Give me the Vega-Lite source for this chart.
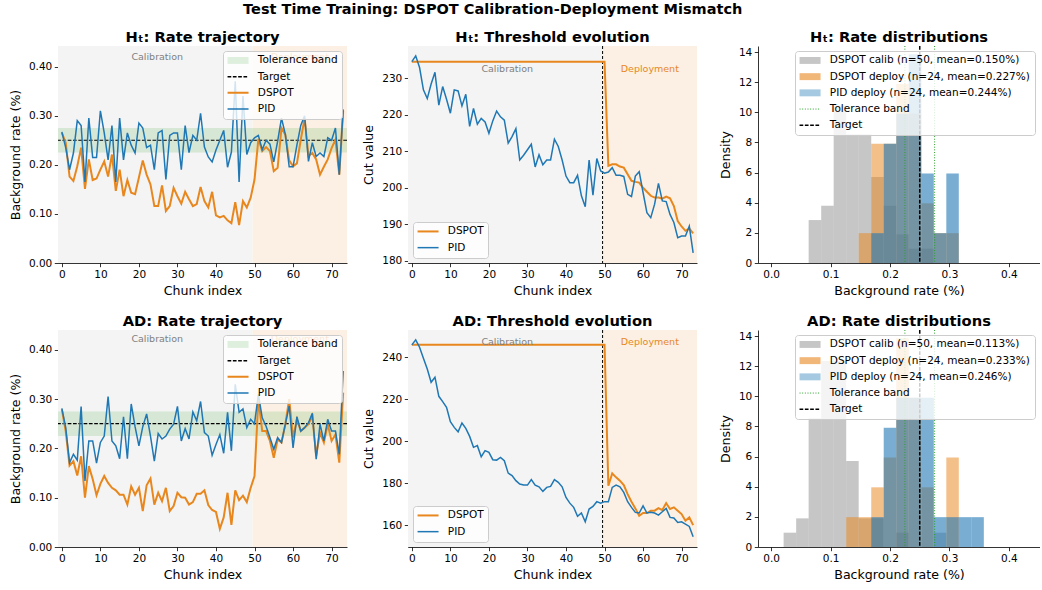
{
"$schema": "https://vega.github.io/schema/vega-lite/v6.json",
"padding": {"left": 9, "top": 2, "right": 0, "bottom": 0},
"title": {"text": "Test Time Training: DSPOT Calibration-Deployment Mismatch", "fontSize": 14.5, "fontWeight": "bold", "anchor": "middle", "offset": 12, "dx": -32, "color": "black"},
"config": {
  "font": "DejaVu Sans",
  "view": {"stroke": null},
  "axis": {"domainColor": "black", "domainWidth": 0.8, "tickColor": "black", "tickWidth": 0.8, "tickSize": 3.7, "labelPadding": 2.5, "labelFontSize": 10.5, "labelColor": "black", "titleFontSize": 12.6, "titleFontWeight": "normal", "titleColor": "black", "grid": false, "labelFlush": false, "labelOverlap": false},
  "axisY": {"titlePadding": 6},
  "axisX": {"titlePadding": 5},
  "title": {"fontSize": 14.7, "fontWeight": "bold", "color": "black", "offset": 1},
  "text": {"fontWeight": "normal"},
  "legend": {"fillColor": "rgba(255,255,255,0.8)", "strokeColor": "#cccccc", "cornerRadius": 3, "padding": 4.2, "labelFontSize": 10.5, "labelColor": "black", "symbolSize": 100, "symbolOffset": 5.6, "labelOffset": 14.5, "rowPadding": 5.2, "offset": 5, "labelLimit": 400}
},
"datasets": {
"ht_rate": [
{"chunk":0,"DSPOT":0.265,"PID":0.267},{"chunk":1,"DSPOT":0.245,"PID":0.235},{"chunk":2,"DSPOT":0.176,"PID":0.19},{"chunk":3,"DSPOT":0.167,"PID":0.224},{"chunk":4,"DSPOT":0.197,"PID":0.29},{"chunk":5,"DSPOT":0.235,"PID":0.28},{"chunk":6,"DSPOT":0.151,"PID":0.165},{"chunk":7,"DSPOT":0.211,"PID":0.295},{"chunk":8,"DSPOT":0.169,"PID":0.215},{"chunk":9,"DSPOT":0.172,"PID":0.215},
{"chunk":10,"DSPOT":0.19,"PID":0.31},{"chunk":11,"DSPOT":0.207,"PID":0.265},{"chunk":12,"DSPOT":0.176,"PID":0.21},{"chunk":13,"DSPOT":0.221,"PID":0.28},{"chunk":14,"DSPOT":0.147,"PID":0.165},{"chunk":15,"DSPOT":0.19,"PID":0.295},{"chunk":16,"DSPOT":0.136,"PID":0.21},{"chunk":17,"DSPOT":0.169,"PID":0.265},{"chunk":18,"DSPOT":0.143,"PID":0.24},{"chunk":19,"DSPOT":0.14,"PID":0.224},
{"chunk":20,"DSPOT":0.174,"PID":0.285},{"chunk":21,"DSPOT":0.209,"PID":0.275},{"chunk":22,"DSPOT":0.18,"PID":0.235},{"chunk":23,"DSPOT":0.16,"PID":0.24},{"chunk":24,"DSPOT":0.116,"PID":0.19},{"chunk":25,"DSPOT":0.116,"PID":0.265},{"chunk":26,"DSPOT":0.158,"PID":0.27},{"chunk":27,"DSPOT":0.106,"PID":0.17},{"chunk":28,"DSPOT":0.116,"PID":0.26},{"chunk":29,"DSPOT":0.153,"PID":0.265},
{"chunk":30,"DSPOT":0.136,"PID":0.265},{"chunk":31,"DSPOT":0.121,"PID":0.19},{"chunk":32,"DSPOT":0.145,"PID":0.28},{"chunk":33,"DSPOT":0.13,"PID":0.225},{"chunk":34,"DSPOT":0.116,"PID":0.26},{"chunk":35,"DSPOT":0.12,"PID":0.25},{"chunk":36,"DSPOT":0.155,"PID":0.305},{"chunk":37,"DSPOT":0.126,"PID":0.236},{"chunk":38,"DSPOT":0.113,"PID":0.216},{"chunk":39,"DSPOT":0.145,"PID":0.206},
{"chunk":40,"DSPOT":0.097,"PID":0.23},{"chunk":41,"DSPOT":0.093,"PID":0.25},{"chunk":42,"DSPOT":0.096,"PID":0.27},{"chunk":43,"DSPOT":0.087,"PID":0.195},{"chunk":44,"DSPOT":0.081,"PID":0.226},{"chunk":45,"DSPOT":0.124,"PID":0.37},{"chunk":46,"DSPOT":0.077,"PID":0.165},{"chunk":47,"DSPOT":0.126,"PID":0.34},{"chunk":48,"DSPOT":0.113,"PID":0.221},{"chunk":49,"DSPOT":0.133,"PID":0.245},
{"chunk":50,"DSPOT":0.17,"PID":0.255},{"chunk":51,"DSPOT":0.253,"PID":0.26},{"chunk":52,"DSPOT":0.228,"PID":0.231},{"chunk":53,"DSPOT":0.236,"PID":0.25},{"chunk":54,"DSPOT":0.228,"PID":0.242},{"chunk":55,"DSPOT":0.187,"PID":0.206},{"chunk":56,"DSPOT":0.194,"PID":0.248},{"chunk":57,"DSPOT":0.275,"PID":0.295},{"chunk":58,"DSPOT":0.261,"PID":0.262},{"chunk":59,"DSPOT":0.209,"PID":0.196},
{"chunk":60,"DSPOT":0.197,"PID":0.196},{"chunk":61,"DSPOT":0.203,"PID":0.24},{"chunk":62,"DSPOT":0.251,"PID":0.28},{"chunk":63,"DSPOT":0.295,"PID":0.3},{"chunk":64,"DSPOT":0.218,"PID":0.207},{"chunk":65,"DSPOT":0.224,"PID":0.245},{"chunk":66,"DSPOT":0.211,"PID":0.217},{"chunk":67,"DSPOT":0.18,"PID":0.224},{"chunk":68,"DSPOT":0.196,"PID":0.217},{"chunk":69,"DSPOT":0.211,"PID":0.255},
{"chunk":70,"DSPOT":0.234,"PID":0.25},{"chunk":71,"DSPOT":0.251,"PID":0.275},{"chunk":72,"DSPOT":0.18,"PID":0.18},{"chunk":73,"DSPOT":0.31,"PID":0.313}
],
"ht_cut": [
{"chunk":0,"DSPOT":234.5,"PID":234.5},{"chunk":1,"DSPOT":234.5,"PID":236.1},{"chunk":2,"DSPOT":234.5,"PID":232.9},{"chunk":3,"DSPOT":234.5,"PID":226.8},{"chunk":4,"DSPOT":234.5,"PID":224.4},{"chunk":5,"DSPOT":234.5,"PID":228.4},{"chunk":6,"DSPOT":234.5,"PID":231.6},{"chunk":7,"DSPOT":234.5,"PID":222.6},{"chunk":8,"DSPOT":234.5,"PID":227.7},{"chunk":9,"DSPOT":234.5,"PID":224.2},
{"chunk":10,"DSPOT":234.5,"PID":220.4},{"chunk":11,"DSPOT":234.5,"PID":226.8},{"chunk":12,"DSPOT":234.5,"PID":226.5},{"chunk":13,"DSPOT":234.5,"PID":222.4},{"chunk":14,"DSPOT":234.5,"PID":225.6},{"chunk":15,"DSPOT":234.5,"PID":216.8},{"chunk":16,"DSPOT":234.5,"PID":221.7},{"chunk":17,"DSPOT":234.5,"PID":217.4},{"chunk":18,"DSPOT":234.5,"PID":219},{"chunk":19,"DSPOT":234.5,"PID":218},
{"chunk":20,"DSPOT":234.5,"PID":214.9},{"chunk":21,"DSPOT":234.5,"PID":218.3},{"chunk":22,"DSPOT":234.5,"PID":221},{"chunk":23,"DSPOT":234.5,"PID":219.4},{"chunk":24,"DSPOT":234.5,"PID":218.5},{"chunk":25,"DSPOT":234.5,"PID":212.2},{"chunk":26,"DSPOT":234.5,"PID":214},{"chunk":27,"DSPOT":234.5,"PID":216.2},{"chunk":28,"DSPOT":234.5,"PID":207.6},{"chunk":29,"DSPOT":234.5,"PID":208.9},
{"chunk":30,"DSPOT":234.5,"PID":210.4},{"chunk":31,"DSPOT":234.5,"PID":211.9},{"chunk":32,"DSPOT":234.5,"PID":205.7},{"chunk":33,"DSPOT":234.5,"PID":209},{"chunk":34,"DSPOT":234.5,"PID":206.3},{"chunk":35,"DSPOT":234.5,"PID":207.6},{"chunk":36,"DSPOT":234.5,"PID":207.6},{"chunk":37,"DSPOT":234.5,"PID":213.3},{"chunk":38,"DSPOT":234.5,"PID":211.3},{"chunk":39,"DSPOT":234.5,"PID":207.6},
{"chunk":40,"DSPOT":234.5,"PID":203.2},{"chunk":41,"DSPOT":234.5,"PID":201.4},{"chunk":42,"DSPOT":234.5,"PID":201.4},{"chunk":43,"DSPOT":234.5,"PID":203.4},{"chunk":44,"DSPOT":234.5,"PID":197.8},{"chunk":45,"DSPOT":234.5,"PID":194.8},{"chunk":46,"DSPOT":234.5,"PID":207.6},{"chunk":47,"DSPOT":234.5,"PID":198},{"chunk":48,"DSPOT":234.5,"PID":208},{"chunk":49,"DSPOT":234.5,"PID":204.6},
{"chunk":50,"DSPOT":234.5,"PID":204},{"chunk":51,"DSPOT":206,"PID":204.3},{"chunk":52,"DSPOT":206.4,"PID":205.5},{"chunk":53,"DSPOT":206.4,"PID":203.4},{"chunk":54,"DSPOT":205.8,"PID":203.4},{"chunk":55,"DSPOT":205.5,"PID":203.1},{"chunk":56,"DSPOT":203.7,"PID":198.2},{"chunk":57,"DSPOT":201.9,"PID":197.6},{"chunk":58,"DSPOT":201.6,"PID":203.2},{"chunk":59,"DSPOT":201.4,"PID":204.4},
{"chunk":60,"DSPOT":200,"PID":198.7},{"chunk":61,"DSPOT":198.9,"PID":193.2},{"chunk":62,"DSPOT":197.8,"PID":191.8},{"chunk":63,"DSPOT":197.3,"PID":195.5},{"chunk":64,"DSPOT":197.3,"PID":201.2},{"chunk":65,"DSPOT":197,"PID":196.4},{"chunk":66,"DSPOT":197.6,"PID":196.2},{"chunk":67,"DSPOT":197.1,"PID":192.7},{"chunk":68,"DSPOT":195,"PID":190.5},{"chunk":69,"DSPOT":190.9,"PID":186.3},
{"chunk":70,"DSPOT":189.4,"PID":186.8},{"chunk":71,"DSPOT":188.2,"PID":186.8},{"chunk":72,"DSPOT":188.8,"PID":189.5},{"chunk":73,"DSPOT":187.5,"PID":182.2}
],
"ad_rate": [
{"chunk":0,"DSPOT":0.279,"PID":0.281},{"chunk":1,"DSPOT":0.235,"PID":0.242},{"chunk":2,"DSPOT":0.165,"PID":0.171},{"chunk":3,"DSPOT":0.174,"PID":0.188},{"chunk":4,"DSPOT":0.145,"PID":0.176},{"chunk":5,"DSPOT":0.184,"PID":0.285},{"chunk":6,"DSPOT":0.1,"PID":0.134},{"chunk":7,"DSPOT":0.164,"PID":0.215},{"chunk":8,"DSPOT":0.138,"PID":0.215},{"chunk":9,"DSPOT":0.105,"PID":0.17},
{"chunk":10,"DSPOT":0.128,"PID":0.212},{"chunk":11,"DSPOT":0.144,"PID":0.225},{"chunk":12,"DSPOT":0.13,"PID":0.305},{"chunk":13,"DSPOT":0.12,"PID":0.215},{"chunk":14,"DSPOT":0.115,"PID":0.205},{"chunk":15,"DSPOT":0.106,"PID":0.179},{"chunk":16,"DSPOT":0.106,"PID":0.264},{"chunk":17,"DSPOT":0.086,"PID":0.179},{"chunk":18,"DSPOT":0.123,"PID":0.29},{"chunk":19,"DSPOT":0.106,"PID":0.244},
{"chunk":20,"DSPOT":0.12,"PID":0.205},{"chunk":21,"DSPOT":0.073,"PID":0.244},{"chunk":22,"DSPOT":0.125,"PID":0.27},{"chunk":23,"DSPOT":0.139,"PID":0.225},{"chunk":24,"DSPOT":0.086,"PID":0.174},{"chunk":25,"DSPOT":0.11,"PID":0.23},{"chunk":26,"DSPOT":0.093,"PID":0.219},{"chunk":27,"DSPOT":0.12,"PID":0.225},{"chunk":28,"DSPOT":0.073,"PID":0.239},{"chunk":29,"DSPOT":0.083,"PID":0.249},
{"chunk":30,"DSPOT":0.11,"PID":0.285},{"chunk":31,"DSPOT":0.101,"PID":0.215},{"chunk":32,"DSPOT":0.1,"PID":0.24},{"chunk":33,"DSPOT":0.086,"PID":0.219},{"chunk":34,"DSPOT":0.091,"PID":0.274},{"chunk":35,"DSPOT":0.108,"PID":0.256},{"chunk":36,"DSPOT":0.108,"PID":0.295},{"chunk":37,"DSPOT":0.115,"PID":0.232},{"chunk":38,"DSPOT":0.085,"PID":0.225},{"chunk":39,"DSPOT":0.075,"PID":0.186},
{"chunk":40,"DSPOT":0.071,"PID":0.208},{"chunk":41,"DSPOT":0.037,"PID":0.228},{"chunk":42,"DSPOT":0.06,"PID":0.19},{"chunk":43,"DSPOT":0.11,"PID":0.273},{"chunk":44,"DSPOT":0.045,"PID":0.195},{"chunk":45,"DSPOT":0.115,"PID":0.33},{"chunk":46,"DSPOT":0.095,"PID":0.273},{"chunk":47,"DSPOT":0.104,"PID":0.28},{"chunk":48,"DSPOT":0.091,"PID":0.242},{"chunk":49,"DSPOT":0.12,"PID":0.259},
{"chunk":50,"DSPOT":0.144,"PID":0.25},{"chunk":51,"DSPOT":0.3,"PID":0.31},{"chunk":52,"DSPOT":0.235,"PID":0.262},{"chunk":53,"DSPOT":0.235,"PID":0.245},{"chunk":54,"DSPOT":0.215,"PID":0.222},{"chunk":55,"DSPOT":0.181,"PID":0.198},{"chunk":56,"DSPOT":0.218,"PID":0.222},{"chunk":57,"DSPOT":0.212,"PID":0.212},{"chunk":58,"DSPOT":0.249,"PID":0.249},{"chunk":59,"DSPOT":0.3,"PID":0.286},
{"chunk":60,"DSPOT":0.222,"PID":0.201},{"chunk":61,"DSPOT":0.259,"PID":0.264},{"chunk":62,"DSPOT":0.235,"PID":0.235},{"chunk":63,"DSPOT":0.242,"PID":0.242},{"chunk":64,"DSPOT":0.249,"PID":0.252},{"chunk":65,"DSPOT":0.266,"PID":0.271},{"chunk":66,"DSPOT":0.185,"PID":0.178},{"chunk":67,"DSPOT":0.232,"PID":0.249},{"chunk":68,"DSPOT":0.212,"PID":0.215},{"chunk":69,"DSPOT":0.249,"PID":0.259},
{"chunk":70,"DSPOT":0.215,"PID":0.235},{"chunk":71,"DSPOT":0.228,"PID":0.235},{"chunk":72,"DSPOT":0.171,"PID":0.188},{"chunk":73,"DSPOT":0.313,"PID":0.357}
],
"ad_cut": [
{"chunk":0,"DSPOT":246,"PID":245.9},{"chunk":1,"DSPOT":246,"PID":248.3},{"chunk":2,"DSPOT":246,"PID":244.8},{"chunk":3,"DSPOT":246,"PID":239.5},{"chunk":4,"DSPOT":246,"PID":234.4},{"chunk":5,"DSPOT":246,"PID":228.1},{"chunk":6,"DSPOT":246,"PID":230.5},{"chunk":7,"DSPOT":246,"PID":221.4},{"chunk":8,"DSPOT":246,"PID":218.9},{"chunk":9,"DSPOT":246,"PID":216.2},
{"chunk":10,"DSPOT":246,"PID":209.3},{"chunk":11,"DSPOT":246,"PID":206.6},{"chunk":12,"DSPOT":246,"PID":204.5},{"chunk":13,"DSPOT":246,"PID":208.7},{"chunk":14,"DSPOT":246,"PID":206.1},{"chunk":15,"DSPOT":246,"PID":202.3},{"chunk":16,"DSPOT":246,"PID":197.1},{"chunk":17,"DSPOT":246,"PID":197.9},{"chunk":18,"DSPOT":246,"PID":192.6},{"chunk":19,"DSPOT":246,"PID":195.5},
{"chunk":20,"DSPOT":246,"PID":194.7},{"chunk":21,"DSPOT":246,"PID":191.2},{"chunk":22,"DSPOT":246,"PID":191},{"chunk":23,"DSPOT":246,"PID":192.3},{"chunk":24,"DSPOT":246,"PID":190.7},{"chunk":25,"DSPOT":246,"PID":184.8},{"chunk":26,"DSPOT":246,"PID":183.6},{"chunk":27,"DSPOT":246,"PID":181.2},{"chunk":28,"DSPOT":246,"PID":179.6},{"chunk":29,"DSPOT":246,"PID":179.1},
{"chunk":30,"DSPOT":246,"PID":179.1},{"chunk":31,"DSPOT":246,"PID":181.7},{"chunk":32,"DSPOT":246,"PID":179.1},{"chunk":33,"DSPOT":246,"PID":178.3},{"chunk":34,"DSPOT":246,"PID":176.1},{"chunk":35,"DSPOT":246,"PID":178},{"chunk":36,"DSPOT":246,"PID":178.5},{"chunk":37,"DSPOT":246,"PID":181.7},{"chunk":38,"DSPOT":246,"PID":180.4},{"chunk":39,"DSPOT":246,"PID":178.3},
{"chunk":40,"DSPOT":246,"PID":173.2},{"chunk":41,"DSPOT":246,"PID":170.5},{"chunk":42,"DSPOT":246,"PID":168.5},{"chunk":43,"DSPOT":246,"PID":164.2},{"chunk":44,"DSPOT":246,"PID":165.8},{"chunk":45,"DSPOT":246,"PID":161.6},{"chunk":46,"DSPOT":246,"PID":167.7},{"chunk":47,"DSPOT":246,"PID":168.9},{"chunk":48,"DSPOT":246,"PID":171.2},{"chunk":49,"DSPOT":246,"PID":170.5},
{"chunk":50,"DSPOT":246,"PID":171.2},{"chunk":51,"DSPOT":178.8,"PID":171.2},{"chunk":52,"DSPOT":184.7,"PID":178},{"chunk":53,"DSPOT":182.8,"PID":179.1},{"chunk":54,"DSPOT":181.2,"PID":178.3},{"chunk":55,"DSPOT":179.1,"PID":175.6},{"chunk":56,"DSPOT":174.8,"PID":171.2},{"chunk":57,"DSPOT":171.2,"PID":168.5},{"chunk":58,"DSPOT":168,"PID":166.1},{"chunk":59,"DSPOT":164.5,"PID":165.8},
{"chunk":60,"DSPOT":165.8,"PID":169.2},{"chunk":61,"DSPOT":165.8,"PID":165.8},{"chunk":62,"DSPOT":166.9,"PID":166.1},{"chunk":63,"DSPOT":166.9,"PID":165.8},{"chunk":64,"DSPOT":168.1,"PID":164.8},{"chunk":65,"DSPOT":167.2,"PID":166.4},{"chunk":66,"DSPOT":170.5,"PID":168},{"chunk":67,"DSPOT":167.7,"PID":163.7},{"chunk":68,"DSPOT":168.5,"PID":163.4},{"chunk":69,"DSPOT":166.9,"PID":161.3},
{"chunk":70,"DSPOT":165.3,"PID":161.6},{"chunk":71,"DSPOT":162.1,"PID":160.5},{"chunk":72,"DSPOT":163.7,"PID":159.4},{"chunk":73,"DSPOT":160,"PID":154.5}
],
"ht_hist": [
{"series":"DSPOT calib (n=50, mean=0.150%)","lo":0.0631,"hi":0.0842,"density":2.85},
{"series":"DSPOT calib (n=50, mean=0.150%)","lo":0.0842,"hi":0.1052,"density":3.8},
{"series":"DSPOT calib (n=50, mean=0.150%)","lo":0.1052,"hi":0.1263,"density":10.45},
{"series":"DSPOT calib (n=50, mean=0.150%)","lo":0.1263,"hi":0.1473,"density":8.55},
{"series":"DSPOT calib (n=50, mean=0.150%)","lo":0.1473,"hi":0.1684,"density":8.55},
{"series":"DSPOT calib (n=50, mean=0.150%)","lo":0.1684,"hi":0.1894,"density":5.7},
{"series":"DSPOT calib (n=50, mean=0.150%)","lo":0.1894,"hi":0.2105,"density":3.8},
{"series":"DSPOT calib (n=50, mean=0.150%)","lo":0.2105,"hi":0.2315,"density":1.9},
{"series":"DSPOT calib (n=50, mean=0.150%)","lo":0.2315,"hi":0.2526,"density":0.95},
{"series":"DSPOT calib (n=50, mean=0.150%)","lo":0.2526,"hi":0.2736,"density":0.95},
{"series":"DSPOT deploy (n=24, mean=0.227%)","lo":0.1473,"hi":0.1684,"density":1.98},
{"series":"DSPOT deploy (n=24, mean=0.227%)","lo":0.1684,"hi":0.1894,"density":7.92},
{"series":"DSPOT deploy (n=24, mean=0.227%)","lo":0.1894,"hi":0.2105,"density":7.92},
{"series":"DSPOT deploy (n=24, mean=0.227%)","lo":0.2105,"hi":0.2315,"density":11.88},
{"series":"DSPOT deploy (n=24, mean=0.227%)","lo":0.2315,"hi":0.2526,"density":9.9},
{"series":"DSPOT deploy (n=24, mean=0.227%)","lo":0.2526,"hi":0.2736,"density":3.96},
{"series":"DSPOT deploy (n=24, mean=0.227%)","lo":0.2736,"hi":0.2947,"density":1.98},
{"series":"DSPOT deploy (n=24, mean=0.227%)","lo":0.2947,"hi":0.3157,"density":1.98},
{"series":"PID deploy (n=24, mean=0.244%)","lo":0.1684,"hi":0.1894,"density":1.98},
{"series":"PID deploy (n=24, mean=0.244%)","lo":0.1894,"hi":0.2105,"density":7.92},
{"series":"PID deploy (n=24, mean=0.244%)","lo":0.2105,"hi":0.2315,"density":9.9},
{"series":"PID deploy (n=24, mean=0.244%)","lo":0.2315,"hi":0.2526,"density":13.86},
{"series":"PID deploy (n=24, mean=0.244%)","lo":0.2526,"hi":0.2736,"density":5.94},
{"series":"PID deploy (n=24, mean=0.244%)","lo":0.2736,"hi":0.2947,"density":1.98},
{"series":"PID deploy (n=24, mean=0.244%)","lo":0.2947,"hi":0.3157,"density":5.94}
],
"ad_hist": [
{"series":"DSPOT calib (n=50, mean=0.113%)","lo":0.021,"hi":0.0421,"density":0.95},
{"series":"DSPOT calib (n=50, mean=0.113%)","lo":0.0421,"hi":0.0631,"density":1.9},
{"series":"DSPOT calib (n=50, mean=0.113%)","lo":0.0631,"hi":0.0842,"density":8.55},
{"series":"DSPOT calib (n=50, mean=0.113%)","lo":0.0842,"hi":0.1052,"density":12.35},
{"series":"DSPOT calib (n=50, mean=0.113%)","lo":0.1052,"hi":0.1263,"density":12.35},
{"series":"DSPOT calib (n=50, mean=0.113%)","lo":0.1263,"hi":0.1473,"density":5.7},
{"series":"DSPOT calib (n=50, mean=0.113%)","lo":0.1473,"hi":0.1684,"density":1.9},
{"series":"DSPOT calib (n=50, mean=0.113%)","lo":0.1684,"hi":0.1894,"density":1.9},
{"series":"DSPOT calib (n=50, mean=0.113%)","lo":0.2105,"hi":0.2315,"density":0.95},
{"series":"DSPOT calib (n=50, mean=0.113%)","lo":0.2736,"hi":0.2947,"density":0.95},
{"series":"DSPOT deploy (n=24, mean=0.233%)","lo":0.1263,"hi":0.1473,"density":1.98},
{"series":"DSPOT deploy (n=24, mean=0.233%)","lo":0.1473,"hi":0.1684,"density":1.98},
{"series":"DSPOT deploy (n=24, mean=0.233%)","lo":0.1684,"hi":0.1894,"density":3.96},
{"series":"DSPOT deploy (n=24, mean=0.233%)","lo":0.1894,"hi":0.2105,"density":5.94},
{"series":"DSPOT deploy (n=24, mean=0.233%)","lo":0.2105,"hi":0.2315,"density":13.86},
{"series":"DSPOT deploy (n=24, mean=0.233%)","lo":0.2315,"hi":0.2526,"density":9.9},
{"series":"DSPOT deploy (n=24, mean=0.233%)","lo":0.2526,"hi":0.2736,"density":3.96},
{"series":"DSPOT deploy (n=24, mean=0.233%)","lo":0.2947,"hi":0.3157,"density":5.94},
{"series":"PID deploy (n=24, mean=0.246%)","lo":0.1684,"hi":0.1894,"density":1.98},
{"series":"PID deploy (n=24, mean=0.246%)","lo":0.1894,"hi":0.2105,"density":7.92},
{"series":"PID deploy (n=24, mean=0.246%)","lo":0.2105,"hi":0.2315,"density":9.9},
{"series":"PID deploy (n=24, mean=0.246%)","lo":0.2315,"hi":0.2526,"density":9.9},
{"series":"PID deploy (n=24, mean=0.246%)","lo":0.2526,"hi":0.2736,"density":9.9},
{"series":"PID deploy (n=24, mean=0.246%)","lo":0.2736,"hi":0.2947,"density":1.98},
{"series":"PID deploy (n=24, mean=0.246%)","lo":0.2947,"hi":0.3157,"density":1.98},
{"series":"PID deploy (n=24, mean=0.246%)","lo":0.3157,"hi":0.3368,"density":1.98},
{"series":"PID deploy (n=24, mean=0.246%)","lo":0.3368,"hi":0.3578,"density":1.98}
]
},
"columns": 3,
"spacing": {"row": 67, "column": 61},
"bounds": "flush",
"resolve": {"scale": {"color": "independent", "x": "independent", "y": "independent", "opacity": "independent", "strokeWidth": "independent"}, "legend": {"color": "independent"}},
"concat": [
{
 "width": 289, "height": 217,
 "title": {"text": "Hₜ: Rate trajectory"},
 "layer": [
  {"data": {"values": [{"start": -1, "end": 49.5}]}, "mark": {"type": "rect", "fill": "#f4f4f4"},
   "encoding": {"x": {"field": "start", "type": "quantitative", "scale": {"domain": [-1, 74], "nice": false, "zero": false}, "axis": {"title": "Chunk index", "values": [0,10,20,30,40,50,60,70], "format": "d"}}, "x2": {"field": "end"}}},
  {"data": {"values": [{"start": 49.5, "end": 74}]}, "mark": {"type": "rect", "fill": "#fbf0e3"},
   "encoding": {"x": {"field": "start", "type": "quantitative"}, "x2": {"field": "end"}}},
  {"data": {"values": [{"low": 0.225, "high": 0.275}]}, "mark": {"type": "rect", "opacity": 0.15},
   "encoding": {"y": {"field": "low", "type": "quantitative", "scale": {"domain": [0, 0.442], "nice": false}, "axis": {"title": "Background rate (%)", "values": [0,0.05,0.1,0.15,0.2,0.25,0.3,0.35,0.4], "format": ".2f"}}, "y2": {"field": "high"},
    "color": {"datum": "Tolerance band", "type": "nominal", "scale": {"domain": ["Tolerance band","Target","DSPOT","PID"], "range": ["#2ca02c","black","#e8871e","#1f77b4"]}}}},
  {"data": {"values": [{"target": 0.25}]}, "mark": {"type": "rule", "strokeDash": [3.7, 1.6], "strokeWidth": 1.2},
   "encoding": {"y": {"field": "target", "type": "quantitative"}, "color": {"datum": "Target", "type": "nominal", "scale": {"domain": ["Tolerance band","Target","DSPOT","PID"], "range": ["#2ca02c","black","#e8871e","#1f77b4"]}}}},
  {"data": {"name": "ht_rate"}, "transform": [{"fold": ["DSPOT", "PID"], "as": ["series", "rate"]}], "mark": {"type": "line"},
   "encoding": {"x": {"field": "chunk", "type": "quantitative"}, "y": {"field": "rate", "type": "quantitative"},
    "color": {"field": "series", "type": "nominal", "scale": {"domain": ["Tolerance band","Target","DSPOT","PID"], "range": ["#2ca02c","black","#e8871e","#1f77b4"]},
      "legend": {"title": null, "orient": "top-right", "symbolSize": 100, "encode": {"symbols": {"update": {
        "shape": {"signal": "datum.value == 'Tolerance band' ? 'M-1,-0.33H1V0.33H-1Z' : 'stroke'"},
        "size": {"value": 441},
        "fill": {"signal": "datum.value == 'Tolerance band' ? '#2ca02c' : 'transparent'"},
        "fillOpacity": {"signal": "datum.value == 'Tolerance band' ? 0.15 : 1"},
        "stroke": {"signal": "datum.value == 'Target' ? 'black' : datum.value == 'DSPOT' ? '#e8871e' : datum.value == 'PID' ? '#1f77b4' : 'transparent'"},
        "strokeDash": {"signal": "datum.value == 'Target' ? [3.7, 1.6] : [1, 0]"},
        "strokeWidth": {"signal": "datum.value == 'Tolerance band' ? 0 : datum.value == 'DSPOT' ? 2 : 1.5"},
        "opacity": {"value": 1}}}}}},
    "strokeWidth": {"field": "series", "type": "nominal", "scale": {"domain": ["DSPOT","PID"], "range": [2, 1.5]}, "legend": null}}},
  {"data": {"values": [{"x": 24.75, "y": 0.42, "label": "Calibration"}]}, "mark": {"type": "text", "color": "#808080", "fontSize": 9.5, "fontWeight": "normal", "baseline": "middle"},
   "encoding": {"x": {"field": "x", "type": "quantitative"}, "y": {"field": "y", "type": "quantitative"}, "text": {"field": "label"}}},
  {"data": {"values": [{"x": 61.75, "y": 0.42, "label": "Deployment"}]}, "mark": {"type": "text", "color": "#e8871e", "fontSize": 9.5, "fontWeight": "normal", "baseline": "middle"},
   "encoding": {"x": {"field": "x", "type": "quantitative"}, "y": {"field": "y", "type": "quantitative"}, "text": {"field": "label"}}}
 ]
},
{
 "width": 289, "height": 217,
 "title": {"text": "Hₜ: Threshold evolution"},
 "layer": [
  {"data": {"values": [{"start": -1, "end": 49.5}]}, "mark": {"type": "rect", "fill": "#f4f4f4"},
   "encoding": {"x": {"field": "start", "type": "quantitative", "scale": {"domain": [-1, 74], "nice": false, "zero": false}, "axis": {"title": "Chunk index", "values": [0,10,20,30,40,50,60,70], "format": "d"}}, "x2": {"field": "end"}}},
  {"data": {"values": [{"start": 49.5, "end": 74}]}, "mark": {"type": "rect", "fill": "#fbf0e3"},
   "encoding": {"x": {"field": "start", "type": "quantitative"}, "x2": {"field": "end"}}},
  {"data": {"values": [{"split": 49.5}]}, "mark": {"type": "rule", "color": "black", "strokeDash": [3, 2], "strokeWidth": 1},
   "encoding": {"x": {"field": "split", "type": "quantitative"}}},
  {"data": {"name": "ht_cut"}, "transform": [{"fold": ["DSPOT"], "as": ["series", "cut"]}], "mark": {"type": "line", "strokeWidth": 2},
   "encoding": {"x": {"field": "chunk", "type": "quantitative"}, "y": {"field": "cut", "type": "quantitative", "scale": {"domain": [179.4, 238.8], "nice": false, "zero": false}, "axis": {"title": "Cut value", "values": [180,190,200,210,220,230]}},
    "color": {"field": "series", "type": "nominal", "scale": {"domain": ["DSPOT","PID"], "range": ["#e8871e","#1f77b4"]},
      "legend": {"title": null, "orient": "bottom-left", "symbolSize": 100, "encode": {"symbols": {"update": {
        "shape": {"signal": "datum.value == 'none' ? 'stroke' : 'M-1,0H1'"},
        "size": {"value": 441},
        "fill": {"value": "transparent"},
        "stroke": {"signal": "datum.value == 'DSPOT' ? '#e8871e' : '#1f77b4'"},
        "strokeWidth": {"signal": "datum.value == 'DSPOT' ? 2 : 1.5"},
        "opacity": {"value": 1}}}}}}}},
  {"data": {"name": "ht_cut"}, "transform": [{"fold": ["PID"], "as": ["series", "cut"]}], "mark": {"type": "line", "strokeWidth": 1.5},
   "encoding": {"x": {"field": "chunk", "type": "quantitative"}, "y": {"field": "cut", "type": "quantitative"},
    "color": {"field": "series", "type": "nominal", "scale": {"domain": ["DSPOT","PID"], "range": ["#e8871e","#1f77b4"]}}}},
  {"data": {"values": [{"x": 24.75, "y": 232.5, "label": "Calibration"}]}, "mark": {"type": "text", "color": "#808080", "fontSize": 9.5, "fontWeight": "normal", "baseline": "middle"},
   "encoding": {"x": {"field": "x", "type": "quantitative"}, "y": {"field": "y", "type": "quantitative"}, "text": {"field": "label"}}},
  {"data": {"values": [{"x": 61.75, "y": 232.5, "label": "Deployment"}]}, "mark": {"type": "text", "color": "#e8871e", "fontSize": 9.5, "fontWeight": "normal", "baseline": "middle"},
   "encoding": {"x": {"field": "x", "type": "quantitative"}, "y": {"field": "y", "type": "quantitative"}, "text": {"field": "label"}}}
 ]
},
{
 "width": 282, "height": 217,
 "title": {"text": "Hₜ: Rate distributions"},
 "layer": [
  {"data": {"name": "ht_hist"}, "mark": {"type": "rect"},
   "encoding": {"x": {"field": "lo", "type": "quantitative", "scale": {"domain": [-0.0221, 0.4523], "nice": false, "zero": false}, "axis": {"title": "Background rate (%)", "values": [0,0.1,0.2,0.3,0.4], "format": ".1f"}},
    "x2": {"field": "hi"},
    "y": {"field": "density", "type": "quantitative", "scale": {"domain": [0, 14.4], "nice": false}, "axis": {"title": "Density", "values": [0,2,4,6,8,10,12,14]}},
    "y2": {"datum": 0},
    "color": {"field": "series", "type": "nominal", "scale": {"domain": ["DSPOT calib (n=50, mean=0.150%)","DSPOT deploy (n=24, mean=0.227%)","PID deploy (n=24, mean=0.244%)","Tolerance band","Target"], "range": ["#808080","#e8871e","#1f77b4","#2ca02c","black"]},
      "legend": {"title": null, "orient": "top-right", "symbolSize": 100, "encode": {"symbols": {"update": {
        "shape": {"signal": "datum.value == 'Tolerance band' || datum.value == 'Target' ? 'stroke' : 'M-1,-0.33H1V0.33H-1Z'"},
        "size": {"value": 441},
        "fill": {"signal": "indexof(datum.value, 'calib') >= 0 ? '#808080' : indexof(datum.value, 'DSPOT deploy') >= 0 ? '#e8871e' : indexof(datum.value, 'PID deploy') >= 0 ? '#1f77b4' : 'transparent'"},
        "fillOpacity": {"signal": "indexof(datum.value, 'calib') >= 0 ? 0.45 : indexof(datum.value, 'DSPOT deploy') >= 0 ? 0.6 : 0.4"},
        "stroke": {"signal": "datum.value == 'Tolerance band' ? '#2ca02c' : datum.value == 'Target' ? 'black' : 'transparent'"},
        "strokeDash": {"signal": "datum.value == 'Tolerance band' ? [1, 1.65] : datum.value == 'Target' ? [3.7, 1.6] : [1, 0]"},
        "strokeWidth": {"signal": "datum.value == 'Target' ? 1.5 : datum.value == 'Tolerance band' ? 1 : 0"},
        "opacity": {"value": 1}}}}}},
    "opacity": {"field": "series", "type": "nominal", "scale": {"domain": ["DSPOT calib (n=50, mean=0.150%)","DSPOT deploy (n=24, mean=0.227%)","PID deploy (n=24, mean=0.244%)"], "range": [0.45, 0.6, 0.4]}, "legend": null}}},
  {"data": {"values": [{"edge": 0.225}, {"edge": 0.275}]}, "mark": {"type": "rule", "strokeDash": [1, 1.65], "strokeWidth": 1},
   "encoding": {"x": {"field": "edge", "type": "quantitative"}, "color": {"datum": "Tolerance band", "type": "nominal", "scale": {"domain": ["DSPOT calib (n=50, mean=0.150%)","DSPOT deploy (n=24, mean=0.227%)","PID deploy (n=24, mean=0.244%)","Tolerance band","Target"], "range": ["#808080","#e8871e","#1f77b4","#2ca02c","black"]}}}},
  {"data": {"values": [{"target": 0.25}]}, "mark": {"type": "rule", "strokeDash": [3.7, 1.6], "strokeWidth": 1.5},
   "encoding": {"x": {"field": "target", "type": "quantitative"}, "color": {"datum": "Target", "type": "nominal", "scale": {"domain": ["DSPOT calib (n=50, mean=0.150%)","DSPOT deploy (n=24, mean=0.227%)","PID deploy (n=24, mean=0.244%)","Tolerance band","Target"], "range": ["#808080","#e8871e","#1f77b4","#2ca02c","black"]}}}}
 ]
},
{
 "width": 289, "height": 217,
 "title": {"text": "AD: Rate trajectory"},
 "layer": [
  {"data": {"values": [{"start": -1, "end": 49.5}]}, "mark": {"type": "rect", "fill": "#f4f4f4"},
   "encoding": {"x": {"field": "start", "type": "quantitative", "scale": {"domain": [-1, 74], "nice": false, "zero": false}, "axis": {"title": "Chunk index", "values": [0,10,20,30,40,50,60,70], "format": "d"}}, "x2": {"field": "end"}}},
  {"data": {"values": [{"start": 49.5, "end": 74}]}, "mark": {"type": "rect", "fill": "#fbf0e3"},
   "encoding": {"x": {"field": "start", "type": "quantitative"}, "x2": {"field": "end"}}},
  {"data": {"values": [{"low": 0.225, "high": 0.275}]}, "mark": {"type": "rect", "opacity": 0.15},
   "encoding": {"y": {"field": "low", "type": "quantitative", "scale": {"domain": [0, 0.44], "nice": false}, "axis": {"title": "Background rate (%)", "values": [0,0.05,0.1,0.15,0.2,0.25,0.3,0.35,0.4], "format": ".2f"}}, "y2": {"field": "high"},
    "color": {"datum": "Tolerance band", "type": "nominal", "scale": {"domain": ["Tolerance band","Target","DSPOT","PID"], "range": ["#2ca02c","black","#e8871e","#1f77b4"]}}}},
  {"data": {"values": [{"target": 0.25}]}, "mark": {"type": "rule", "strokeDash": [3.7, 1.6], "strokeWidth": 1.2},
   "encoding": {"y": {"field": "target", "type": "quantitative"}, "color": {"datum": "Target", "type": "nominal", "scale": {"domain": ["Tolerance band","Target","DSPOT","PID"], "range": ["#2ca02c","black","#e8871e","#1f77b4"]}}}},
  {"data": {"name": "ad_rate"}, "transform": [{"fold": ["DSPOT", "PID"], "as": ["series", "rate"]}], "mark": {"type": "line"},
   "encoding": {"x": {"field": "chunk", "type": "quantitative"}, "y": {"field": "rate", "type": "quantitative"},
    "color": {"field": "series", "type": "nominal", "scale": {"domain": ["Tolerance band","Target","DSPOT","PID"], "range": ["#2ca02c","black","#e8871e","#1f77b4"]},
      "legend": {"title": null, "orient": "top-right", "symbolSize": 100, "encode": {"symbols": {"update": {
        "shape": {"signal": "datum.value == 'Tolerance band' ? 'M-1,-0.33H1V0.33H-1Z' : 'stroke'"},
        "size": {"value": 441},
        "fill": {"signal": "datum.value == 'Tolerance band' ? '#2ca02c' : 'transparent'"},
        "fillOpacity": {"signal": "datum.value == 'Tolerance band' ? 0.15 : 1"},
        "stroke": {"signal": "datum.value == 'Target' ? 'black' : datum.value == 'DSPOT' ? '#e8871e' : datum.value == 'PID' ? '#1f77b4' : 'transparent'"},
        "strokeDash": {"signal": "datum.value == 'Target' ? [3.7, 1.6] : [1, 0]"},
        "strokeWidth": {"signal": "datum.value == 'Tolerance band' ? 0 : datum.value == 'DSPOT' ? 2 : 1.5"},
        "opacity": {"value": 1}}}}}},
    "strokeWidth": {"field": "series", "type": "nominal", "scale": {"domain": ["DSPOT","PID"], "range": [2, 1.5]}, "legend": null}}},
  {"data": {"values": [{"x": 24.75, "y": 0.421, "label": "Calibration"}]}, "mark": {"type": "text", "color": "#808080", "fontSize": 9.5, "fontWeight": "normal", "baseline": "middle"},
   "encoding": {"x": {"field": "x", "type": "quantitative"}, "y": {"field": "y", "type": "quantitative"}, "text": {"field": "label"}}},
  {"data": {"values": [{"x": 61.75, "y": 0.421, "label": "Deployment"}]}, "mark": {"type": "text", "color": "#e8871e", "fontSize": 9.5, "fontWeight": "normal", "baseline": "middle"},
   "encoding": {"x": {"field": "x", "type": "quantitative"}, "y": {"field": "y", "type": "quantitative"}, "text": {"field": "label"}}}
 ]
},
{
 "width": 289, "height": 217,
 "title": {"text": "AD: Threshold evolution"},
 "layer": [
  {"data": {"values": [{"start": -1, "end": 49.5}]}, "mark": {"type": "rect", "fill": "#f4f4f4"},
   "encoding": {"x": {"field": "start", "type": "quantitative", "scale": {"domain": [-1, 74], "nice": false, "zero": false}, "axis": {"title": "Chunk index", "values": [0,10,20,30,40,50,60,70], "format": "d"}}, "x2": {"field": "end"}}},
  {"data": {"values": [{"start": 49.5, "end": 74}]}, "mark": {"type": "rect", "fill": "#fbf0e3"},
   "encoding": {"x": {"field": "start", "type": "quantitative"}, "x2": {"field": "end"}}},
  {"data": {"values": [{"split": 49.5}]}, "mark": {"type": "rule", "color": "black", "strokeDash": [3, 2], "strokeWidth": 1},
   "encoding": {"x": {"field": "split", "type": "quantitative"}}},
  {"data": {"name": "ad_cut"}, "transform": [{"fold": ["DSPOT"], "as": ["series", "cut"]}], "mark": {"type": "line", "strokeWidth": 2},
   "encoding": {"x": {"field": "chunk", "type": "quantitative"}, "y": {"field": "cut", "type": "quantitative", "scale": {"domain": [149.6, 253], "nice": false, "zero": false}, "axis": {"title": "Cut value", "values": [160,180,200,220,240]}},
    "color": {"field": "series", "type": "nominal", "scale": {"domain": ["DSPOT","PID"], "range": ["#e8871e","#1f77b4"]},
      "legend": {"title": null, "orient": "bottom-left", "symbolSize": 100, "encode": {"symbols": {"update": {
        "shape": {"signal": "datum.value == 'none' ? 'stroke' : 'M-1,0H1'"},
        "size": {"value": 441},
        "fill": {"value": "transparent"},
        "stroke": {"signal": "datum.value == 'DSPOT' ? '#e8871e' : '#1f77b4'"},
        "strokeWidth": {"signal": "datum.value == 'DSPOT' ? 2 : 1.5"},
        "opacity": {"value": 1}}}}}}}},
  {"data": {"name": "ad_cut"}, "transform": [{"fold": ["PID"], "as": ["series", "cut"]}], "mark": {"type": "line", "strokeWidth": 1.5},
   "encoding": {"x": {"field": "chunk", "type": "quantitative"}, "y": {"field": "cut", "type": "quantitative"},
    "color": {"field": "series", "type": "nominal", "scale": {"domain": ["DSPOT","PID"], "range": ["#e8871e","#1f77b4"]}}}},
  {"data": {"values": [{"x": 24.75, "y": 247.2, "label": "Calibration"}]}, "mark": {"type": "text", "color": "#808080", "fontSize": 9.5, "fontWeight": "normal", "baseline": "middle"},
   "encoding": {"x": {"field": "x", "type": "quantitative"}, "y": {"field": "y", "type": "quantitative"}, "text": {"field": "label"}}},
  {"data": {"values": [{"x": 61.75, "y": 247.2, "label": "Deployment"}]}, "mark": {"type": "text", "color": "#e8871e", "fontSize": 9.5, "fontWeight": "normal", "baseline": "middle"},
   "encoding": {"x": {"field": "x", "type": "quantitative"}, "y": {"field": "y", "type": "quantitative"}, "text": {"field": "label"}}}
 ]
},
{
 "width": 282, "height": 217,
 "title": {"text": "AD: Rate distributions"},
 "layer": [
  {"data": {"name": "ad_hist"}, "mark": {"type": "rect"},
   "encoding": {"x": {"field": "lo", "type": "quantitative", "scale": {"domain": [-0.0221, 0.4523], "nice": false, "zero": false}, "axis": {"title": "Background rate (%)", "values": [0,0.1,0.2,0.3,0.4], "format": ".1f"}},
    "x2": {"field": "hi"},
    "y": {"field": "density", "type": "quantitative", "scale": {"domain": [0, 14.4], "nice": false}, "axis": {"title": "Density", "values": [0,2,4,6,8,10,12,14]}},
    "y2": {"datum": 0},
    "color": {"field": "series", "type": "nominal", "scale": {"domain": ["DSPOT calib (n=50, mean=0.113%)","DSPOT deploy (n=24, mean=0.233%)","PID deploy (n=24, mean=0.246%)","Tolerance band","Target"], "range": ["#808080","#e8871e","#1f77b4","#2ca02c","black"]},
      "legend": {"title": null, "orient": "top-right", "symbolSize": 100, "encode": {"symbols": {"update": {
        "shape": {"signal": "datum.value == 'Tolerance band' || datum.value == 'Target' ? 'stroke' : 'M-1,-0.33H1V0.33H-1Z'"},
        "size": {"value": 441},
        "fill": {"signal": "indexof(datum.value, 'calib') >= 0 ? '#808080' : indexof(datum.value, 'DSPOT deploy') >= 0 ? '#e8871e' : indexof(datum.value, 'PID deploy') >= 0 ? '#1f77b4' : 'transparent'"},
        "fillOpacity": {"signal": "indexof(datum.value, 'calib') >= 0 ? 0.45 : indexof(datum.value, 'DSPOT deploy') >= 0 ? 0.6 : 0.4"},
        "stroke": {"signal": "datum.value == 'Tolerance band' ? '#2ca02c' : datum.value == 'Target' ? 'black' : 'transparent'"},
        "strokeDash": {"signal": "datum.value == 'Tolerance band' ? [1, 1.65] : datum.value == 'Target' ? [3.7, 1.6] : [1, 0]"},
        "strokeWidth": {"signal": "datum.value == 'Target' ? 1.5 : datum.value == 'Tolerance band' ? 1 : 0"},
        "opacity": {"value": 1}}}}}},
    "opacity": {"field": "series", "type": "nominal", "scale": {"domain": ["DSPOT calib (n=50, mean=0.113%)","DSPOT deploy (n=24, mean=0.233%)","PID deploy (n=24, mean=0.246%)"], "range": [0.45, 0.6, 0.4]}, "legend": null}}},
  {"data": {"values": [{"edge": 0.225}, {"edge": 0.275}]}, "mark": {"type": "rule", "strokeDash": [1, 1.65], "strokeWidth": 1},
   "encoding": {"x": {"field": "edge", "type": "quantitative"}, "color": {"datum": "Tolerance band", "type": "nominal", "scale": {"domain": ["DSPOT calib (n=50, mean=0.113%)","DSPOT deploy (n=24, mean=0.233%)","PID deploy (n=24, mean=0.246%)","Tolerance band","Target"], "range": ["#808080","#e8871e","#1f77b4","#2ca02c","black"]}}}},
  {"data": {"values": [{"target": 0.25}]}, "mark": {"type": "rule", "strokeDash": [3.7, 1.6], "strokeWidth": 1.5},
   "encoding": {"x": {"field": "target", "type": "quantitative"}, "color": {"datum": "Target", "type": "nominal", "scale": {"domain": ["DSPOT calib (n=50, mean=0.113%)","DSPOT deploy (n=24, mean=0.233%)","PID deploy (n=24, mean=0.246%)","Tolerance band","Target"], "range": ["#808080","#e8871e","#1f77b4","#2ca02c","black"]}}}}
 ]
}
]
}
